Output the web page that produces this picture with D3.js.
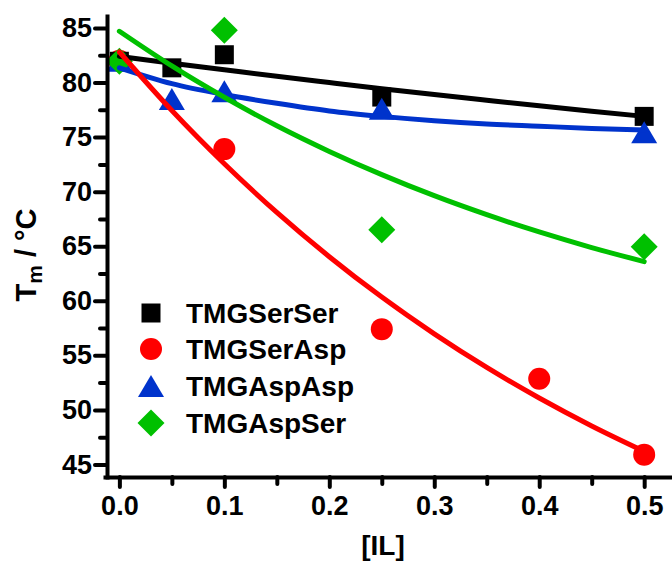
<!DOCTYPE html>
<html>
<head>
<meta charset="utf-8">
<script src="https://cdn.jsdelivr.net/npm/d3@7"></script>
<style>
  html, body { margin: 0; padding: 0; background: #fff; }
  svg { display: block; font-family: "Liberation Sans", Arial, sans-serif; font-weight: bold; }
</style>
</head>
<body>
<svg id="chart" width="672" height="561"></svg>
<script>
// ---- data ----
const seriesNames = ["TMGSerSer", "TMGSerAsp", "TMGAspAsp", "TMGAspSer"];
const seriesColors = ["#000000", "#ff0000", "#0033cc", "#00c000"];

const serSerX = [0, 0.05, 0.1, 0.25, 0.5];
const serSerY = [81.95, 81.35, 82.55, 78.67, 76.9];
const serAspX = [0, 0.1, 0.25, 0.4, 0.5];
const serAspY = [82.0, 73.9, 57.4, 52.85, 45.9];
const aspAspX = [0, 0.05, 0.1, 0.25, 0.5];
const aspAspY = [82.0, 78.5, 79.2, 77.6, 75.45];
const aspSerX = [0, 0.1, 0.25, 0.5];
const aspSerY = [81.95, 84.8, 66.5, 64.95];

// fitted curves
const fitX = [0, 0.05, 0.1, 0.15, 0.2, 0.25, 0.3, 0.35, 0.4, 0.45, 0.5];
const fitSerSer = [82.4, 81.77, 81.17, 80.57, 80.0, 79.44, 78.9, 78.38, 77.87, 77.38, 76.9];
const fitSerAsp = [82.8, 77.44, 72.56, 68.1, 64.04, 60.34, 56.97, 53.89, 51.09, 48.53, 46.2];
const fitAspAsp = [81.35, 79.9, 78.9, 78.1, 77.4, 76.9, 76.5, 76.2, 76.0, 75.8, 75.65];
const fitAspSer = [84.7, 81.52, 78.65, 76.04, 73.69, 71.56, 69.63, 67.89, 66.31, 64.88, 63.59];

const xTicks = [0, 0.1, 0.2, 0.3, 0.4, 0.5];
const xMinorTicks = [0.05, 0.15, 0.25, 0.35, 0.45];
const yTicks = [45, 50, 55, 60, 65, 70, 75, 80, 85];
const yMinorTicks = [47.5, 52.5, 57.5, 62.5, 67.5, 72.5, 77.5, 82.5];

// ---- layout ----
const svg = d3.select("#chart");
const x = d3.scaleLinear().domain([-0.0137, 0.5265]).range([105, 672]);
const y = d3.scaleLinear().domain([43.85, 86.1]).range([477, 16]);
const axisX0 = 107, axisY0 = 477;

// custom symbols (bbox-centered)
const triangleSym = { draw(ctx, size) { const w = 13, h = 11; ctx.moveTo(0, -h); ctx.lineTo(w, h); ctx.lineTo(-w, h); ctx.closePath(); } };
const diamondSym = { draw(ctx, size) { const r = 13.5; ctx.moveTo(0, -r); ctx.lineTo(r, 0); ctx.lineTo(0, r); ctx.lineTo(-r, 0); ctx.closePath(); } };
const squareSym = { draw(ctx, size) { const r = 9.5; ctx.rect(-r, -r, 2 * r, 2 * r); } };
const circleSym = { draw(ctx, size) { const r = 11; ctx.moveTo(r, 0); ctx.arc(0, 0, r, 0, 2 * Math.PI); } };
const symbols = [squareSym, circleSym, triangleSym, diamondSym];

const pointSets = [
  [serSerX, serSerY], [serAspX, serAspY], [aspAspX, aspAspY], [aspSerX, aspSerY]
];
const fits = [fitSerSer, fitSerAsp, fitAspAsp, fitAspSer];

// ---- markers ----
const markerOrder = [1, 0, 2, 3];
markerOrder.forEach(i => {
  const [xs, ys] = pointSets[i];
  const pts = xs.map((v, k) => ({ x: v, y: ys[k] }));
  svg.append("g").selectAll("path").data(pts).join("path")
    .attr("d", d3.symbol().type(symbols[i]))
    .attr("transform", d => `translate(${x(d.x)},${y(d.y)})`)
    .attr("fill", seriesColors[i]);
});

// ---- fit lines ----
const line = d3.line().x(d => x(d.x)).y(d => y(d.y)).curve(d3.curveMonotoneX);
const lineOrder = [0, 2, 3, 1];
lineOrder.forEach(i => {
  const pts = fitX.map((v, k) => ({ x: v, y: fits[i][k] }));
  svg.append("path").datum(pts)
    .attr("d", line)
    .attr("fill", "none")
    .attr("stroke", seriesColors[i])
    .attr("stroke-width", 5)
    .attr("stroke-linecap", "round");
});

// ---- axes ----
svg.append("g").attr("transform", `translate(${axisX0},0)`)
  .call(d3.axisLeft(y).tickValues(yTicks).tickSize(12).tickSizeOuter(0).tickPadding(3).tickFormat(d3.format("d")));
const yMinor = svg.append("g").attr("transform", `translate(${axisX0},0)`)
  .call(d3.axisLeft(y).tickValues(yMinorTicks).tickSize(7).tickSizeOuter(0).tickFormat(""));
yMinor.select(".domain").remove();

svg.append("g").attr("transform", `translate(0,${axisY0})`)
  .call(d3.axisBottom(x).tickValues(xTicks).tickSize(10).tickSizeOuter(0).tickPadding(9).tickFormat(d3.format(".1f")));
const xMinor = svg.append("g").attr("transform", `translate(0,${axisY0})`)
  .call(d3.axisBottom(x).tickValues(xMinorTicks).tickSize(7).tickSizeOuter(0).tickFormat(""));
xMinor.select(".domain").remove();

svg.selectAll(".domain").attr("stroke", "#000").attr("stroke-width", 4).attr("stroke-linecap", "square");
svg.selectAll(".tick line").attr("stroke", "#000").attr("stroke-width", 4).attr("stroke-linecap", "round");
svg.selectAll(".tick text").attr("fill", "#000").attr("font-size", 27).attr("font-weight", "bold")
  .attr("font-family", "'Liberation Sans', Arial, sans-serif");

// ---- axis titles ----
const yTitle = svg.append("text")
  .attr("transform", "translate(36,255) rotate(-90)")
  .attr("text-anchor", "middle")
  .attr("font-size", 29)
  .attr("fill", "#000");
yTitle.append("tspan").text("T");
yTitle.append("tspan").attr("font-size", 21).attr("dy", 6).text("m");
yTitle.append("tspan").attr("dy", -6).text(" / °C");

svg.append("text")
  .attr("x", 383).attr("y", 555)
  .attr("text-anchor", "middle")
  .attr("font-size", 28)
  .attr("fill", "#000")
  .text("[IL]");

// ---- legend ----
const legendRows = [313, 349, 386, 423];
seriesNames.forEach((name, i) => {
  svg.append("path")
    .attr("d", d3.symbol().type(symbols[i])())
    .attr("transform", `translate(151,${legendRows[i]})`)
    .attr("fill", seriesColors[i]);
  svg.append("text")
    .attr("x", 186).attr("y", legendRows[i])
    .attr("dy", "0.36em")
    .attr("font-size", 28)
    .attr("fill", "#000")
    .text(name);
});
</script>
</body>
</html>
